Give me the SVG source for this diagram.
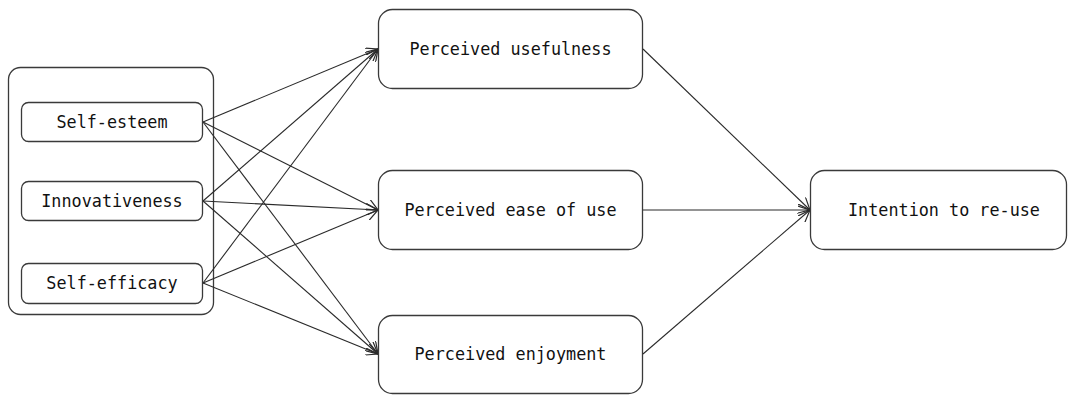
<svg xmlns="http://www.w3.org/2000/svg" width="1068" height="396" viewBox="0 0 1068 396">
<style>
.box{fill:#fff;stroke:#3a3a3a;stroke-width:1.3}
.lbl{font-family:"DejaVu Sans Mono","Liberation Mono",monospace;font-size:16.8px;fill:#111;text-anchor:middle}
.edge{stroke:#2a2a2a;stroke-width:1.1;fill:none;marker-end:url(#arr)}
</style>
<defs>
<marker id="arr" markerWidth="14" markerHeight="12" refX="12" refY="6" orient="auto" markerUnits="userSpaceOnUse">
<path d="M0,0 L12,6 L0,12" fill="none" stroke="#2a2a2a" stroke-width="1.2"/>
</marker>
</defs>
<rect width="1068" height="396" fill="#fff"/>
<g id="group-antecedents">
<rect class="box" x="8.5" y="67.5" width="205" height="247" rx="12"/>
</g>
<g id="connectors">
<line class="edge" x1="203" y1="122" x2="378" y2="49"/>
<line class="edge" x1="203" y1="122" x2="378" y2="210"/>
<line class="edge" x1="203" y1="122" x2="378" y2="354"/>
<line class="edge" x1="203" y1="201" x2="378" y2="49"/>
<line class="edge" x1="203" y1="201" x2="378" y2="210"/>
<line class="edge" x1="203" y1="201" x2="378" y2="354"/>
<line class="edge" x1="203" y1="283" x2="378" y2="49"/>
<line class="edge" x1="203" y1="283" x2="378" y2="210"/>
<line class="edge" x1="203" y1="283" x2="378" y2="354"/>
<line class="edge" x1="643" y1="49" x2="810" y2="210"/>
<line class="edge" x1="643" y1="210" x2="810" y2="210"/>
<line class="edge" x1="643" y1="354" x2="810" y2="210"/>
</g>
<g id="self-esteem">
<rect class="box" x="21.5" y="102.5" width="181" height="39" rx="7"/>
<text class="lbl" x="112" y="128">Self-esteem</text>
</g>
<g id="innovativeness">
<rect class="box" x="21.5" y="181.5" width="181" height="39" rx="7"/>
<text class="lbl" x="112" y="207">Innovativeness</text>
</g>
<g id="self-efficacy">
<rect class="box" x="21.5" y="263.5" width="181" height="40" rx="7"/>
<text class="lbl" x="112" y="289">Self-efficacy</text>
</g>
<g id="perceived-usefulness">
<rect class="box" x="378.5" y="9.5" width="264" height="79" rx="14"/>
<text class="lbl" x="510.5" y="55">Perceived usefulness</text>
</g>
<g id="perceived-ease-of-use">
<rect class="box" x="378.5" y="170.5" width="264" height="79" rx="14"/>
<text class="lbl" x="510.5" y="216">Perceived ease of use</text>
</g>
<g id="perceived-enjoyment">
<rect class="box" x="378.5" y="315.5" width="264" height="78" rx="14"/>
<text class="lbl" x="510.5" y="360">Perceived enjoyment</text>
</g>
<g id="intention-to-re-use">
<rect class="box" x="810.5" y="170.5" width="256" height="79" rx="14"/>
<text class="lbl" x="944" y="216">Intention to re-use</text>
</g>
</svg>
